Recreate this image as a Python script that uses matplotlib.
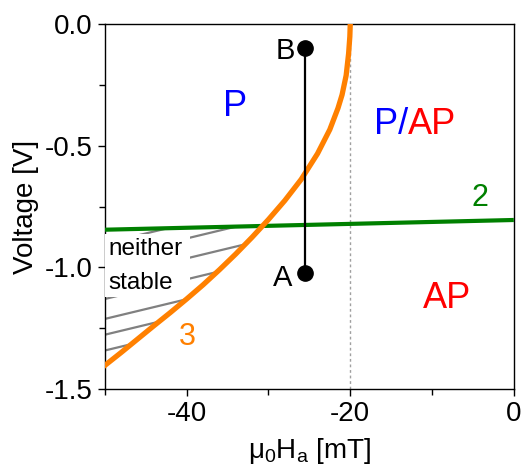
import numpy as np
import matplotlib
matplotlib.use("Agg")
import matplotlib.pyplot as plt
from matplotlib.patches import Polygon, Rectangle

plt.rcParams["font.family"] = ["Liberation Sans", "DejaVu Sans"]
plt.rcParams["mathtext.default"] = "regular"
plt.rcParams["axes.unicode_minus"] = False

# Boundary 3 (orange): switching field vs. voltage
curve3_h = [-51.0, -48.0, -46.0, -44.0, -42.0, -40.0, -38.0, -36.0, -34.0, -32.0,
            -30.0, -28.0, -26.0, -24.0, -22.5, -21.5, -21.0, -20.5, -20.2, -20.05, -20.0]
curve3_v = [-1.43, -1.350, -1.295, -1.240, -1.186, -1.130, -1.072, -1.010, -0.945, -0.876,
            -0.803, -0.725, -0.638, -0.532, -0.433, -0.345, -0.29, -0.21, -0.12, -0.05, 0.0]

# Boundary 2 (green)
line2_h = [-50.0, 0.0]
line2_v = [-0.845, -0.805]

# Operating path between points A and B
path_h = [-25.5, -25.5]
path_v = [-1.023, -0.097]
point_labels = ["A", "B"]

# Hatching of the "neither stable" region: intercepts at H = -50 and common slope
hatch_v0 = [-1.342, -1.277, -1.212, -1.130, -1.044, -0.962, -0.901]
hatch_slope = 0.0081

h_cross = -20.0

fig = plt.figure(figsize=(5.27, 4.68), dpi=100)
ax = fig.add_axes([0.199, 0.169, 0.776, 0.779])

ax.set_xlim(-50, 0)
ax.set_ylim(-1.5, 0.0)

# dotted reference line
ax.axvline(h_cross, color="#a0a0a0", lw=1.0, ls=(0, (2, 2)), zorder=1)

# hatch lines, clipped to the area left of curve 3 and below line 2
clip_verts = list(zip(curve3_h, curve3_v)) + [(-20.0, 1.0), (-60.0, 1.0), (-60.0, -2.0), (-51.0, -2.0)]
clip_poly = Polygon(clip_verts, closed=True, transform=ax.transData, facecolor="none", edgecolor="none")
ax.add_patch(clip_poly)
g0 = line2_v[0]
gs = (line2_v[1] - line2_v[0]) / (line2_h[1] - line2_h[0])
for v0 in hatch_v0:
    h_end = min(-50 + (g0 - v0) / (hatch_slope - gs), 0.0)
    hs = np.array([-50.0, h_end])
    vs = v0 + hatch_slope * (hs + 50)
    ln, = ax.plot(hs, vs, color="#808080", lw=1.6, zorder=2, solid_capstyle="butt")
    ln.set_clip_path(clip_poly)

# white backing behind the region label
ax.add_patch(Rectangle((-50, -1.12), 10.4, 0.258, facecolor="white", edgecolor="none", zorder=3))
ax.text(-49.6, -0.924, "neither", fontsize=17.5, va="center", ha="left", zorder=4)
ax.text(-49.6, -1.064, "stable", fontsize=17.5, va="center", ha="left", zorder=4)

ax.plot(line2_h, line2_v, color="#008000", lw=3.0, zorder=5, solid_capstyle="butt")
ax.plot(curve3_h, curve3_v, color="#FF8000", lw=3.8, zorder=6)

ax.plot(path_h, path_v, color="black", lw=1.6, marker="o", ms=11, zorder=7)
ax.text(-28.3, -1.043, point_labels[0], fontsize=21, ha="center", va="center", zorder=8)
ax.text(-27.9, -0.109, point_labels[1], fontsize=21, ha="center", va="center", zorder=8)

# region and boundary labels
ax.text(-34.1, -0.34, "P", color="blue", fontsize=26, ha="center", va="center")
t1 = ax.text(-15.0, -0.414, "P/", color="blue", fontsize=26, ha="center", va="center")
ax.annotate("AP", xycoords=t1, xy=(1, 0.5), va="center", ha="left", color="red", fontsize=26)
ax.text(-8.15, -1.13, "AP", color="red", fontsize=26, ha="center", va="center")
ax.text(-4.1, -0.715, "2", color="#008000", fontsize=22, ha="center", va="center")
ax.text(-39.95, -1.285, "3", color="#FF8000", fontsize=22, ha="center", va="center")

ax.set_xticks([-40, -20, 0])
ax.set_xticks([-50, -30, -10], minor=True)
ax.set_yticks([0.0, -0.5, -1.0, -1.5])
ax.set_yticks([-0.25, -0.75, -1.25], minor=True)
ax.yaxis.set_major_formatter(matplotlib.ticker.FormatStrFormatter("%.1f"))
ax.tick_params(which="major", direction="out", length=5, width=1, labelsize=20, pad=4)
ax.tick_params(which="minor", direction="out", length=4, width=1)
ax.tick_params(top=False, right=False, which="both")
for s in ax.spines.values():
    s.set_linewidth(1.0)

ax.set_xlabel(r"μ$_0$H$_a$ [mT]", fontsize=20, labelpad=6)
ax.set_ylabel("Voltage [V]", fontsize=20, labelpad=4)

fig.savefig("out.png", dpi=100)
